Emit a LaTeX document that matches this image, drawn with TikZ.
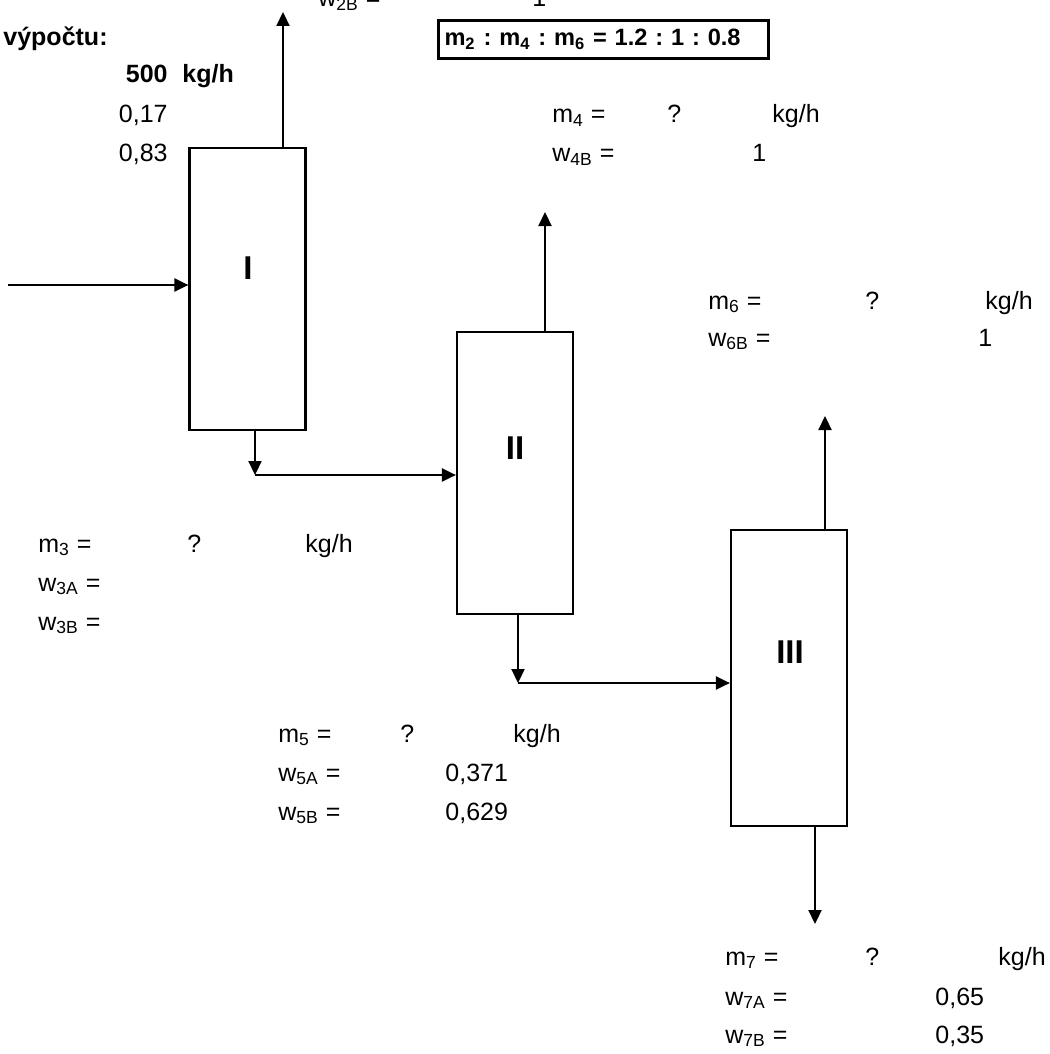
\documentclass[tikz,border=0pt]{standalone}
\usepackage{fontspec}
\setmainfont{Liberation Sans}
\usetikzlibrary{positioning, arrows.meta}
\frenchspacing

\begin{document}
\begin{tikzpicture}[
  x=0.5pt, y=-0.5pt,
  col/.style={draw, line width=1.1pt, minimum width=58pt, inner sep=0pt},
  num/.style={font=\fontsize{16.5}{18}\selectfont\bfseries},
  txt/.style={anchor=base west, inner sep=0pt, font=\fontsize{12.5}{14}\selectfont},
  bold/.style={txt, font=\fontsize{12.5}{14}\selectfont\bfseries},
  flow/.style={line width=1.1pt, -{Triangle[length=7pt, width=6.5pt]}}
]
  \useasboundingbox (0,0) rectangle (1049,1054);

  \node[col, minimum height=141pt] (colI) at (247.5,289) {};
  \node[col, minimum height=141pt] (colII) at (515,473) {};
  \node[col, minimum height=148pt] (colIII) at (789,678) {};
  \node[num] (nI) at (248,268) {I};
  \node[num] (nII) at (515,448) {II};
  \node[num] (nIII) at (790,652) {III};

  \coordinate (feed) at (8,285);
  \coordinate (out2) at (283,12);
  \coordinate (j3) at (255,475);
  \coordinate (out4) at (545,212);
  \coordinate (j5) at (518,683);
  \coordinate (out6) at (825,416);
  \coordinate (out7) at (815,924);
  \draw[flow] (feed) -- (feed -| colI.west);
  \draw[flow] (colI.north -| out2) -- (out2);
  \draw[flow] (colI.south -| j3) -- (j3);
  \draw[flow] (j3) -- (j3 -| colII.west);
  \draw[flow] (colII.north -| out4) -- (out4);
  \draw[flow] (colII.south -| j5) -- (j5);
  \draw[flow] (j5) -- (j5 -| colIII.west);
  \draw[flow] (colIII.north -| out6) -- (out6);
  \draw[flow] (colIII.south -| out7) -- (out7);

  \node[draw, line width=1.5pt, anchor=north west, minimum width=165pt, minimum height=19pt,
    text width=159pt, inner sep=3pt, font=\fontsize{11.8}{14}\selectfont\bfseries] (ratio) at (437,19)
    {m\textsubscript{2} : m\textsubscript{4} : m\textsubscript{6} = 1.2 : 1 : 0.8};

  \node[bold] (head) at (3,46) {výpočtu:};
  \node[bold, anchor=base east] (m1v) at (168,83) {500};
  \node[bold] (m1u) at (182,83) {kg/h};
  \node[txt, anchor=base east] (w1A) at (168,123) {0,17};
  \node[txt, anchor=base east] (w1B) at (168,162) {0,83};

  \node[txt] (w2B) at (318,7) {w\textsubscript{2B} =};
  \node[txt] (w2Bv) at (532,7) {1};

  \node[txt] (m4) at (552,123) {m\textsubscript{4} =};
  \node[txt] (m4v) at (667,123) {?};
  \node[txt] (m4u) at (772,123) {kg/h};
  \node[txt] (w4B) at (552,162) {w\textsubscript{4B} =};
  \node[txt] (w4Bv) at (752,162) {1};

  \node[txt] (m6) at (708,309) {m\textsubscript{6} =};
  \node[txt] (m6v) at (865,309) {?};
  \node[txt] (m6u) at (985,309) {kg/h};
  \node[txt] (w6B) at (708,346) {w\textsubscript{6B} =};
  \node[txt] (w6Bv) at (978,346) {1};

  \node[txt] (m3) at (38,552) {m\textsubscript{3} =};
  \node[txt] (m3v) at (187,552) {?};
  \node[txt] (m3u) at (305,552) {kg/h};
  \node[txt] (w3A) at (38,591) {w\textsubscript{3A} =};
  \node[txt] (w3B) at (38,630) {w\textsubscript{3B} =};

  \node[txt] (m5) at (278,742) {m\textsubscript{5} =};
  \node[txt] (m5v) at (400,742) {?};
  \node[txt] (m5u) at (513,742) {kg/h};
  \node[txt] (w5A) at (278,781) {w\textsubscript{5A} =};
  \node[txt] (w5Av) at (445,781) {0,371};
  \node[txt] (w5B) at (278,820) {w\textsubscript{5B} =};
  \node[txt] (w5Bv) at (445,820) {0,629};

  \node[txt] (m7) at (725,965) {m\textsubscript{7} =};
  \node[txt] (m7v) at (865,965) {?};
  \node[txt] (m7u) at (998,965) {kg/h};
  \node[txt] (w7A) at (725,1005) {w\textsubscript{7A} =};
  \node[txt] (w7Av) at (935,1005) {0,65};
  \node[txt] (w7B) at (725,1043) {w\textsubscript{7B} =};
  \node[txt] (w7Bv) at (935,1043) {0,35};
\end{tikzpicture}
\end{document}
